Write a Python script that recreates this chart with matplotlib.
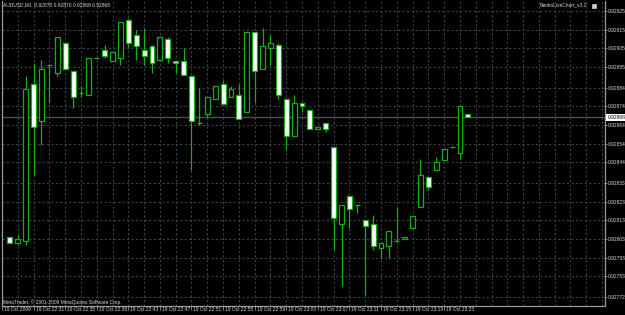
import matplotlib
matplotlib.use("Agg")
import matplotlib.pyplot as plt
import matplotlib.transforms as mtrans
from matplotlib.patches import Rectangle
import numpy as np

# ---------------- data (AUDUSD M1, 19 Oct 2009 22:28 ...) ----------------
opens  = [0.92804, 0.92801, 0.92802, 0.92886, 0.92866, 0.92896, 0.92892, 0.92908, 0.92893, 0.92881,
          0.92880, 0.92900, 0.92904, 0.92898, 0.92900, 0.92920, 0.92912, 0.92904, 0.92906, 0.92899,
          0.92910, 0.92898, 0.92898, 0.92890, 0.92865, 0.92870, 0.92878, 0.92886, 0.92879, 0.92880,
          0.92871, 0.92914, 0.92894, 0.92905, 0.92907, 0.92878, 0.92858, 0.92876, 0.92872, 0.92862,
          0.92865, 0.92852, 0.92811, 0.92826, 0.92821, 0.92813, 0.92811, 0.92798, 0.92799, 0.92802,
          0.92803, 0.92809, 0.92820, 0.92836, 0.92840, 0.92845, 0.92852, 0.92849, 0.92870]
highs  = [0.92804, 0.92805, 0.92890, 0.92897, 0.92899, 0.92896, 0.92911, 0.92908, 0.92893, 0.92885,
          0.92900, 0.92900, 0.92907, 0.92903, 0.92919, 0.92921, 0.92915, 0.92916, 0.92907, 0.92911,
          0.92911, 0.92898, 0.92905, 0.92890, 0.92884, 0.92879, 0.92885, 0.92888, 0.92885, 0.92886,
          0.92914, 0.92914, 0.92916, 0.92912, 0.92908, 0.92878, 0.92880, 0.92876, 0.92872, 0.92863,
          0.92865, 0.92852, 0.92821, 0.92826, 0.92821, 0.92813, 0.92816, 0.92801, 0.92807, 0.92820,
          0.92804, 0.92815, 0.92846, 0.92836, 0.92847, 0.92851, 0.92852, 0.92874, 0.92870]
lows   = [0.92801, 0.92800, 0.92800, 0.92837, 0.92853, 0.92876, 0.92890, 0.92894, 0.92873, 0.92879,
          0.92880, 0.92900, 0.92900, 0.92898, 0.92896, 0.92905, 0.92899, 0.92896, 0.92892, 0.92899,
          0.92897, 0.92892, 0.92891, 0.92840, 0.92864, 0.92868, 0.92878, 0.92875, 0.92879, 0.92867,
          0.92871, 0.92876, 0.92894, 0.92896, 0.92878, 0.92851, 0.92858, 0.92871, 0.92862, 0.92862,
          0.92860, 0.92797, 0.92778, 0.92809, 0.92817, 0.92773, 0.92797, 0.92793, 0.92793, 0.92802,
          0.92803, 0.92809, 0.92820, 0.92829, 0.92840, 0.92845, 0.92852, 0.92846, 0.92868]
closes = [0.92801, 0.92803, 0.92883, 0.92863, 0.92894, 0.92896, 0.92911, 0.92894, 0.92879, 0.92881,
          0.92900, 0.92900, 0.92901, 0.92903, 0.92919, 0.92908, 0.92906, 0.92901, 0.92897, 0.92911,
          0.92900, 0.92897, 0.92891, 0.92866, 0.92865, 0.92879, 0.92885, 0.92875, 0.92883, 0.92867,
          0.92914, 0.92893, 0.92906, 0.92908, 0.92880, 0.92858, 0.92876, 0.92874, 0.92862, 0.92863,
          0.92862, 0.92814, 0.92821, 0.92819, 0.92821, 0.92810, 0.92799, 0.92801, 0.92807, 0.92802,
          0.92804, 0.92815, 0.92837, 0.92831, 0.92844, 0.92851, 0.92852, 0.92874, 0.92868]

y_tick_labels = ["0.92925", "0.92915", "0.92905", "0.92895", "0.92884", "0.92874", "0.92864", "0.92854",
                 "0.92844", "0.92833", "0.92823", "0.92813", "0.92803", "0.92793", "0.92783", "0.92772"]
x_tick_labels = ["19 Oct 2009", "19 Oct 22:31", "19 Oct 22:35", "19 Oct 22:39", "19 Oct 22:43",
                 "19 Oct 22:47", "19 Oct 22:51", "19 Oct 22:55", "19 Oct 22:59", "19 Oct 23:03",
                 "19 Oct 23:07", "19 Oct 23:11", "19 Oct 23:15", "19 Oct 23:19", "19 Oct 23:23"]
x_tick_bars = [-1, 3, 7, 11, 15, 19, 23, 27, 31, 35, 39, 43, 47, 51, 55]

symbol = "AUDUSD,M1"
indicator_name = "RenkoLiveChart_v3.2"
copyright_text = "MetaTrader, \u00a9 2001-2009 MetaQuotes Software Corp."

# ---------------- style ----------------
BG = "#000000"
GREEN = "#12b012"
GRID = "#3a424c"
TXT = "#d8d8d8"
FONT = ["Liberation Sans", "DejaVu Sans"]
FS = 3.5

W, H = 625, 315
fig = plt.figure(figsize=(W / 100, H / 100), dpi=100, facecolor=BG)
# plot area in pixels: x 2..605, y 1..306
ax = fig.add_axes([2 / W, 9 / H, 603 / W, 305 / H], facecolor=BG)

n = len(opens)
x = np.arange(n)
o = np.array(opens); c = np.array(closes); hi = np.array(highs); lo = np.array(lows)

ax.set_xlim(-0.911, 75.37)
ax.set_ylim(0.9276708, 0.9293035)

# grid
ytick_vals = [float(s) for s in y_tick_labels]
for v in ytick_vals:
    ax.axhline(v, color=GRID, lw=0.8, ls=(0, (2, 2)), zorder=1)
for gx in range(-1, 77, 2):
    ax.axvline(gx, color=GRID, lw=0.8, ls=(0, (2, 2)), zorder=1)

# current price line
last = c[-1]
ax.axhline(last, color="#505050", lw=1.0, zorder=1.5)

# wicks
ax.vlines(x, lo, hi, color=GREEN, lw=0.9, zorder=2)
# bodies
bull = c > o
bear = c < o
doji = c == o
bw = 0.62
ax.bar(x[bull], (c - o)[bull], bottom=o[bull], width=bw, color=BG, edgecolor=GREEN, lw=0.9, zorder=3)
ax.bar(x[bear], (o - c)[bear], bottom=c[bear], width=bw, color="white", edgecolor=GREEN, lw=0.9, zorder=3)
ax.hlines(o[doji], x[doji] - bw / 2, x[doji] + bw / 2, color=GREEN, lw=1.0, zorder=3)

for s in ax.spines.values():
    s.set_color("#9a9a9a")
    s.set_linewidth(0.9)
ax.spines["top"].set_visible(False)

# y tick labels (right)
ax.set_yticks(ytick_vals)
ax.yaxis.tick_right()
ax.set_yticklabels(y_tick_labels, fontsize=FS, color=TXT, family=FONT)
ax.tick_params(axis="y", length=1.2, width=0.6, color="#9a9a9a", pad=0.8)

# x ticks: marks only, labels drawn beside them (MetaTrader style)
ax.set_xticks(x_tick_bars)
ax.set_xticklabels([])
ax.tick_params(axis="x", length=2.6, width=0.6, color="#9a9a9a")
xl_trans = mtrans.blended_transform_factory(ax.transData, ax.transAxes) + \
    mtrans.ScaledTranslation(2 / 100, -1.2 / 100, fig.dpi_scale_trans)
for b, lab in zip(x_tick_bars, x_tick_labels):
    ax.text(b, 0, lab, transform=xl_trans, ha="left", va="top", fontsize=FS, color=TXT,
            family=FONT, clip_on=False)

# current price label box
ax.text(1.0, last, f"{last:.5f}", transform=ax.get_yaxis_transform() +
        mtrans.ScaledTranslation(2.5 / 100, 0, fig.dpi_scale_trans),
        ha="left", va="center", fontsize=FS, color="black", family=FONT,
        bbox=dict(boxstyle="square,pad=0.3", fc="white", ec="white", lw=0), zorder=5, clip_on=False)

# header
fig.text(3 / W, 1 - 5 / H, f"{symbol}  {o[-1]:.5f} {hi[-1]:.5f} {lo[-1]:.5f} {c[-1]:.5f}",
         fontsize=FS, color=TXT, family=FONT, ha="left", va="center")
fig.text(587 / W, 1 - 5 / H, indicator_name, fontsize=FS, color=TXT, family=FONT, ha="right", va="center")
fig.patches.append(Rectangle((592 / W, 1 - 7.5 / H), 4 / W, 4 / H, transform=fig.transFigure,
                             fc="#cfcfcf", ec="#cfcfcf", lw=0.5))
fig.text(3 / W, 1 - 302 / H, copyright_text, fontsize=FS, color=TXT, family=FONT, ha="left", va="center")

fig.savefig("out.png", dpi=100, facecolor=BG)
